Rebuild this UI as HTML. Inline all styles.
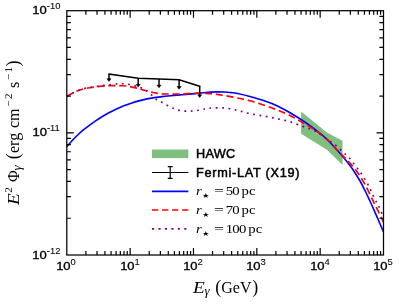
<!DOCTYPE html><html><head><meta charset="utf-8"><title>chart</title><style>
html,body{margin:0;padding:0;background:#fff;}
body{-webkit-font-smoothing:antialiased;width:399px;height:304px;position:relative;overflow:hidden;font-family:"Liberation Sans",sans-serif;color:#000;}
.t{position:absolute;white-space:nowrap;line-height:1;will-change:transform;}
.tk{font-size:11.3px;-webkit-text-stroke:0.33px #000;}
.tk sup{-webkit-text-stroke:0.08px #000;font-size:8.2px;vertical-align:baseline;position:relative;top:-4.6px;}
.xt{transform:translateX(-50%) scaleX(1.15);top:260.9px;}
.yt{right:339px;transform-origin:100% 50%;transform:scaleX(1.15);}
.lg{font-size:12.7px;left:196.3px;-webkit-text-stroke:0.5px #000;}
.m{font-family:"Liberation Serif",serif;font-size:12.3px;left:196px;transform-origin:0 50%;transform:scaleX(1.2);}
.m .eq{margin-left:0.9px;margin-right:-0.1px;display:inline-block;transform-origin:0 50%;transform:scaleX(1.2);}
.m .u{margin-left:-1px;}
.m .n{letter-spacing:-0.55px;}
.ax{font-family:"Liberation Serif",serif;width:0;height:0;}
.s{position:absolute;white-space:nowrap;line-height:1;display:block;}
.m i{font-style:italic;}
.m sub{font-size:7px;vertical-align:baseline;position:relative;top:2.6px;}
</style></head><body>
<svg width="399" height="304" viewBox="0 0 399 304" style="position:absolute;left:0;top:0">
<rect width="399" height="304" fill="#fff"/>
<defs><clipPath id="c"><rect x="66.80" y="10.70" width="316.70" height="244.30"/></clipPath></defs>
<g clip-path="url(#c)" fill="none">
<polygon points="301.10,111.50 326.90,132.40 342.50,140.80 342.50,164.90 327.20,150.00 301.10,133.80" fill="#008000" fill-opacity="0.5"/>
<path d="M66.80 146.62 C67.67 145.63 70.13 142.69 72.00 140.71 C73.87 138.73 76.00 136.61 78.00 134.74 C80.00 132.87 82.00 131.15 84.00 129.49 C86.00 127.83 88.00 126.28 90.00 124.80 C92.00 123.32 94.00 121.93 96.00 120.59 C98.00 119.25 100.00 117.99 102.00 116.78 C104.00 115.57 106.00 114.43 108.00 113.34 C110.00 112.25 112.00 111.22 114.00 110.24 C116.00 109.26 118.00 108.34 120.00 107.48 C122.00 106.62 124.00 105.80 126.00 105.05 C128.00 104.30 130.00 103.60 132.00 102.95 C134.00 102.30 136.00 101.70 138.00 101.15 C140.00 100.60 142.00 100.11 144.00 99.66 C146.00 99.21 148.00 98.80 150.00 98.43 C152.00 98.06 154.00 97.74 156.00 97.44 C158.00 97.14 160.00 96.88 162.00 96.64 C164.00 96.40 166.00 96.19 168.00 95.99 C170.00 95.79 172.00 95.61 174.00 95.43 C176.00 95.25 178.00 95.08 180.00 94.91 C182.00 94.74 184.00 94.58 186.00 94.40 C188.00 94.23 190.00 94.05 192.00 93.86 C194.00 93.67 196.00 93.47 198.00 93.28 C200.00 93.09 202.00 92.89 204.00 92.70 C206.00 92.52 208.00 92.32 210.00 92.17 C212.00 92.02 213.50 91.85 216.00 91.82 C218.50 91.79 222.50 91.87 225.00 92.00 C227.50 92.13 228.92 92.35 231.00 92.60 C233.08 92.85 234.33 92.85 237.50 93.50 C240.67 94.15 245.42 95.25 250.00 96.50 C254.58 97.75 260.42 99.42 265.00 101.00 C269.58 102.58 273.33 104.03 277.50 106.00 C281.67 107.97 285.83 110.38 290.00 112.80 C294.17 115.22 298.33 117.72 302.50 120.50 C306.67 123.28 311.25 126.67 315.00 129.50 C318.75 132.33 321.25 134.00 325.00 137.50 C328.75 141.00 333.33 145.82 337.50 150.50 C341.67 155.18 346.32 160.63 350.00 165.60 C353.68 170.57 357.10 176.15 359.60 180.30 C362.10 184.45 363.35 187.22 365.00 190.50 C366.65 193.78 368.00 196.75 369.50 200.00 C371.00 203.25 372.42 206.42 374.00 210.00 C375.58 213.58 377.42 217.83 379.00 221.50 C380.58 225.17 382.75 230.25 383.50 232.00" stroke="#0000ff" stroke-width="1.65"/>
<path d="M66.80 96.20 C67.75 95.70 70.50 94.18 72.50 93.20 C74.50 92.22 76.72 91.08 78.80 90.30 C80.88 89.52 82.92 88.97 85.00 88.50 C87.08 88.03 89.20 87.80 91.30 87.50 C93.40 87.20 95.50 86.97 97.60 86.70 C99.70 86.43 102.00 86.08 103.90 85.90 C105.80 85.73 105.87 85.68 109.00 85.65 C112.13 85.62 119.20 85.54 122.70 85.70 C126.20 85.86 127.48 86.17 130.00 86.60 C132.52 87.03 135.25 87.65 137.80 88.30 C140.35 88.95 142.52 89.75 145.30 90.50 C148.08 91.25 152.05 92.27 154.50 92.80 C156.95 93.33 158.23 93.50 160.00 93.70 C161.77 93.90 161.73 93.95 165.10 94.00 C168.47 94.05 175.17 94.13 180.20 94.00 C185.23 93.87 190.33 93.27 195.30 93.20 C200.27 93.13 206.38 93.40 210.00 93.60 C213.62 93.80 214.50 94.07 217.00 94.40 C219.50 94.73 221.58 95.00 225.00 95.60 C228.42 96.20 233.33 97.13 237.50 98.00 C241.67 98.87 245.42 99.55 250.00 100.80 C254.58 102.05 260.42 103.97 265.00 105.50 C269.58 107.03 273.33 108.33 277.50 110.00 C281.67 111.67 285.83 113.42 290.00 115.50 C294.17 117.58 298.33 120.08 302.50 122.50 C306.67 124.92 310.83 127.17 315.00 130.00 C319.17 132.83 323.75 136.08 327.50 139.50 C331.25 142.92 334.25 147.08 337.50 150.50 C340.75 153.92 343.95 156.75 347.00 160.00 C350.05 163.25 352.85 166.02 355.80 170.00 C358.75 173.98 361.92 178.95 364.70 183.90 C367.48 188.85 370.22 195.08 372.50 199.70 C374.78 204.32 376.57 207.80 378.40 211.60 C380.23 215.40 382.65 220.68 383.50 222.50" stroke="#ff0000" stroke-width="1.65" stroke-dasharray="7.1 3.75"/>
<path d="M66.80 96.20 C67.75 95.70 70.50 94.18 72.50 93.20 C74.50 92.22 76.72 91.10 78.80 90.30 C80.88 89.50 82.92 88.92 85.00 88.40 C87.08 87.88 89.20 87.57 91.30 87.20 C93.40 86.83 95.50 86.52 97.60 86.20 C99.70 85.88 102.00 85.53 103.90 85.30 C105.80 85.07 106.82 85.03 109.00 84.80 C111.18 84.57 114.72 84.08 117.00 83.90 C119.28 83.72 120.50 83.58 122.70 83.70 C124.90 83.82 127.68 84.10 130.20 84.60 C132.72 85.10 135.83 86.08 137.80 86.70 C139.77 87.32 140.50 87.63 142.00 88.30 C143.50 88.97 145.13 89.53 146.80 90.70 C148.47 91.87 150.38 93.83 152.00 95.30 C153.62 96.77 154.95 98.38 156.50 99.50 C158.05 100.62 159.48 101.00 161.30 102.00 C163.12 103.00 165.25 104.38 167.40 105.50 C169.55 106.62 172.07 107.85 174.20 108.70 C176.33 109.55 177.68 110.18 180.20 110.60 C182.72 111.02 186.28 111.25 189.30 111.20 C192.32 111.15 195.53 110.70 198.30 110.30 C201.07 109.90 203.53 109.18 205.90 108.80 C208.27 108.42 209.32 108.13 212.50 108.00 C215.68 107.87 220.83 107.60 225.00 108.00 C229.17 108.40 233.33 109.45 237.50 110.40 C241.67 111.35 245.42 112.73 250.00 113.70 C254.58 114.67 260.42 115.41 265.00 116.25 C269.58 117.09 273.33 117.83 277.50 118.75 C281.67 119.67 285.83 120.50 290.00 121.75 C294.17 123.00 298.96 124.96 302.50 126.25 C306.04 127.54 308.75 128.46 311.25 129.50 C313.75 130.54 315.00 130.96 317.50 132.50 C320.00 134.04 323.75 137.00 326.25 138.75 C328.75 140.50 330.62 141.67 332.50 143.00 C334.38 144.33 335.83 145.29 337.50 146.75 C339.17 148.21 340.96 150.29 342.50 151.75 C344.04 153.21 345.29 154.12 346.75 155.50 C348.21 156.88 349.88 158.33 351.25 160.00 C352.62 161.67 353.75 163.83 355.00 165.50 C356.25 167.17 357.62 168.54 358.75 170.00 C359.88 171.46 360.54 172.43 361.75 174.25 C362.96 176.07 364.77 178.81 366.00 180.90 C367.23 182.99 368.18 184.98 369.10 186.80 C370.02 188.62 370.58 189.82 371.50 191.80 C372.42 193.78 373.62 196.72 374.60 198.70 C375.58 200.68 376.50 201.98 377.40 203.70 C378.30 205.42 378.98 206.78 380.00 209.00 C381.02 211.22 382.92 215.67 383.50 217.00" stroke="#800080" stroke-width="1.65" stroke-dasharray="1.8 4.54"/>
<polyline points="109.00,74.10 138.20,78.30 159.00,78.90 179.10,79.70 199.70,86.30" stroke="#000" stroke-width="1.5" stroke-linejoin="miter" stroke-linecap="square"/>
<line x1="109.00" y1="74.10" x2="109.00" y2="80.20" stroke="#000" stroke-width="1.5"/>
<polygon points="106.90,78.70 111.10,78.70 109.00,81.40" fill="#000" stroke="#000" stroke-width="0.5" stroke-linejoin="miter"/>
<line x1="138.20" y1="78.30" x2="138.20" y2="85.80" stroke="#000" stroke-width="1.5"/>
<polygon points="136.10,84.30 140.30,84.30 138.20,87.00" fill="#000" stroke="#000" stroke-width="0.5" stroke-linejoin="miter"/>
<line x1="159.00" y1="78.90" x2="159.00" y2="86.60" stroke="#000" stroke-width="1.5"/>
<polygon points="156.90,85.10 161.10,85.10 159.00,87.80" fill="#000" stroke="#000" stroke-width="0.5" stroke-linejoin="miter"/>
<line x1="179.10" y1="79.70" x2="179.10" y2="88.00" stroke="#000" stroke-width="1.5"/>
<polygon points="177.00,86.50 181.20,86.50 179.10,89.20" fill="#000" stroke="#000" stroke-width="0.5" stroke-linejoin="miter"/>
<line x1="199.70" y1="86.30" x2="199.70" y2="96.30" stroke="#000" stroke-width="1.5"/>
<polygon points="197.60,94.80 201.80,94.80 199.70,97.50" fill="#000" stroke="#000" stroke-width="0.5" stroke-linejoin="miter"/>
</g>
<path d="M85.87 255.00v-4.10 M85.87 10.70v4.10 M97.02 255.00v-4.10 M97.02 10.70v4.10 M104.93 255.00v-4.10 M104.93 10.70v4.10 M111.07 255.00v-4.10 M111.07 10.70v4.10 M116.09 255.00v-4.10 M116.09 10.70v4.10 M120.33 255.00v-4.10 M120.33 10.70v4.10 M124.00 255.00v-4.10 M124.00 10.70v4.10 M127.24 255.00v-4.10 M127.24 10.70v4.10 M130.14 255.00v-7.00 M130.14 10.70v7.00 M149.21 255.00v-4.10 M149.21 10.70v4.10 M160.36 255.00v-4.10 M160.36 10.70v4.10 M168.27 255.00v-4.10 M168.27 10.70v4.10 M174.41 255.00v-4.10 M174.41 10.70v4.10 M179.43 255.00v-4.10 M179.43 10.70v4.10 M183.67 255.00v-4.10 M183.67 10.70v4.10 M187.34 255.00v-4.10 M187.34 10.70v4.10 M190.58 255.00v-4.10 M190.58 10.70v4.10 M193.48 255.00v-7.00 M193.48 10.70v7.00 M212.55 255.00v-4.10 M212.55 10.70v4.10 M223.70 255.00v-4.10 M223.70 10.70v4.10 M231.61 255.00v-4.10 M231.61 10.70v4.10 M237.75 255.00v-4.10 M237.75 10.70v4.10 M242.77 255.00v-4.10 M242.77 10.70v4.10 M247.01 255.00v-4.10 M247.01 10.70v4.10 M250.68 255.00v-4.10 M250.68 10.70v4.10 M253.92 255.00v-4.10 M253.92 10.70v4.10 M256.82 255.00v-7.00 M256.82 10.70v7.00 M275.89 255.00v-4.10 M275.89 10.70v4.10 M287.04 255.00v-4.10 M287.04 10.70v4.10 M294.95 255.00v-4.10 M294.95 10.70v4.10 M301.09 255.00v-4.10 M301.09 10.70v4.10 M306.11 255.00v-4.10 M306.11 10.70v4.10 M310.35 255.00v-4.10 M310.35 10.70v4.10 M314.02 255.00v-4.10 M314.02 10.70v4.10 M317.26 255.00v-4.10 M317.26 10.70v4.10 M320.16 255.00v-7.00 M320.16 10.70v7.00 M339.23 255.00v-4.10 M339.23 10.70v4.10 M350.38 255.00v-4.10 M350.38 10.70v4.10 M358.29 255.00v-4.10 M358.29 10.70v4.10 M364.43 255.00v-4.10 M364.43 10.70v4.10 M369.45 255.00v-4.10 M369.45 10.70v4.10 M373.69 255.00v-4.10 M373.69 10.70v4.10 M377.36 255.00v-4.10 M377.36 10.70v4.10 M380.60 255.00v-4.10 M380.60 10.70v4.10 M66.80 218.23h4.10 M383.50 218.23h-4.10 M66.80 196.72h4.10 M383.50 196.72h-4.10 M66.80 181.46h4.10 M383.50 181.46h-4.10 M66.80 169.62h4.10 M383.50 169.62h-4.10 M66.80 159.95h4.10 M383.50 159.95h-4.10 M66.80 151.77h4.10 M383.50 151.77h-4.10 M66.80 144.69h4.10 M383.50 144.69h-4.10 M66.80 138.44h4.10 M383.50 138.44h-4.10 M66.80 132.85h7.00 M383.50 132.85h-7.00 M66.80 96.08h4.10 M383.50 96.08h-4.10 M66.80 74.57h4.10 M383.50 74.57h-4.10 M66.80 59.31h4.10 M383.50 59.31h-4.10 M66.80 47.47h4.10 M383.50 47.47h-4.10 M66.80 37.80h4.10 M383.50 37.80h-4.10 M66.80 29.62h4.10 M383.50 29.62h-4.10 M66.80 22.54h4.10 M383.50 22.54h-4.10 M66.80 16.29h4.10 M383.50 16.29h-4.10" stroke="#000" stroke-width="1.2" fill="none"/>
<rect x="66.80" y="10.70" width="316.70" height="244.30" fill="none" stroke="#000" stroke-width="1.25"/>
<rect x="152" y="149.5" width="36.3" height="8.6" fill="#008000" fill-opacity="0.5"/>
<path d="M152 172.5H188.4 M170.2 166.5V178.5 M167.8 166.6h4.8 M167.8 178.4h4.8" stroke="#000" stroke-width="1.2" fill="none"/>
<path d="M152 191.3H188.4" stroke="#0000ff" stroke-width="1.65"/>
<path d="M152 210H188.4" stroke="#ff0000" stroke-width="1.65" stroke-dasharray="6.25 3.8"/>
<path d="M152 228.8H188.4" stroke="#800080" stroke-width="1.75" stroke-dasharray="2.15 4.3"/>
</svg>
<div class="t tk xt" style="left:66.30px">10<sup>0</sup></div>
<div class="t tk xt" style="left:129.64px">10<sup>1</sup></div>
<div class="t tk xt" style="left:192.98px">10<sup>2</sup></div>
<div class="t tk xt" style="left:256.32px">10<sup>3</sup></div>
<div class="t tk xt" style="left:319.66px">10<sup>4</sup></div>
<div class="t tk xt" style="left:383.00px">10<sup>5</sup></div>
<div class="t tk yt" style="top:249.50px">10<sup>-12</sup></div>
<div class="t tk yt" style="top:127.35px">10<sup>-11</sup></div>
<div class="t tk yt" style="top:5.20px">10<sup>-10</sup></div>
<div class="t lg" style="top:148px;letter-spacing:0.3px">HAWC</div>
<div class="t lg" style="top:166.8px;letter-spacing:0.73px">Fermi-LAT (X19)</div>
<div class="t m" style="top:185.0px"><i>r</i><sub>&#9733;</sub> <span class="eq">=</span> <span class="n">50</span> <span class="u">pc</span></div>
<div class="t m" style="top:204.0px"><i>r</i><sub>&#9733;</sub> <span class="eq">=</span> <span class="n">70</span> <span class="u">pc</span></div>
<div class="t m" style="top:222.8px"><i>r</i><sub>&#9733;</sub> <span class="eq">=</span> <span class="n">100</span> <span class="u">pc</span></div>
<div class="t ax" style="left:0;top:0;"><span class="s" style="left:193.20px;top:279.60px;font-size:16.00px;font-style:italic;transform-origin:0 50%;transform:scaleX(1.200);">E</span><span class="s" style="left:204.60px;top:284.20px;font-size:13.00px;font-style:italic;transform-origin:0 50%;transform:scaleX(1.000);">&gamma;</span><span class="s" style="left:215.30px;top:278.00px;font-size:18.00px;">(</span><span class="s" style="left:221.30px;top:279.60px;font-size:16.00px;">GeV</span><span class="s" style="left:252.20px;top:278.00px;font-size:18.00px;">)</span></div>
<div class="t ax" style="left:18.6px;top:205.2px;transform-origin:0 0;transform:rotate(-90deg);"><span class="s" style="left:0.20px;top:-13.40px;font-size:16.00px;font-style:italic;transform-origin:0 50%;transform:scaleX(1.200);">E</span><span class="s" style="left:12.30px;top:-15.70px;font-size:11.00px;">2</span><span class="s" style="left:23.00px;top:-13.40px;font-size:16.00px;">&Phi;</span><span class="s" style="left:34.50px;top:-8.80px;font-size:13.00px;font-style:italic;">&gamma;</span><span class="s" style="left:45.80px;top:-15.00px;font-size:18.00px;">(</span><span class="s" style="left:52.00px;top:-13.40px;font-size:16.00px;">erg</span><span class="s" style="left:77.00px;top:-13.40px;font-size:16.00px;">cm</span><span class="s" style="left:98.20px;top:-15.70px;font-size:11.00px;"><span style="letter-spacing:1.6px">&minus;</span>2</span><span class="s" style="left:117.00px;top:-13.40px;font-size:16.00px;">s</span><span class="s" style="left:124.90px;top:-15.70px;font-size:11.00px;"><span style="letter-spacing:1.4px">&minus;</span>1</span><span class="s" style="left:138.60px;top:-15.00px;font-size:18.00px;">)</span></div>
</body></html>
